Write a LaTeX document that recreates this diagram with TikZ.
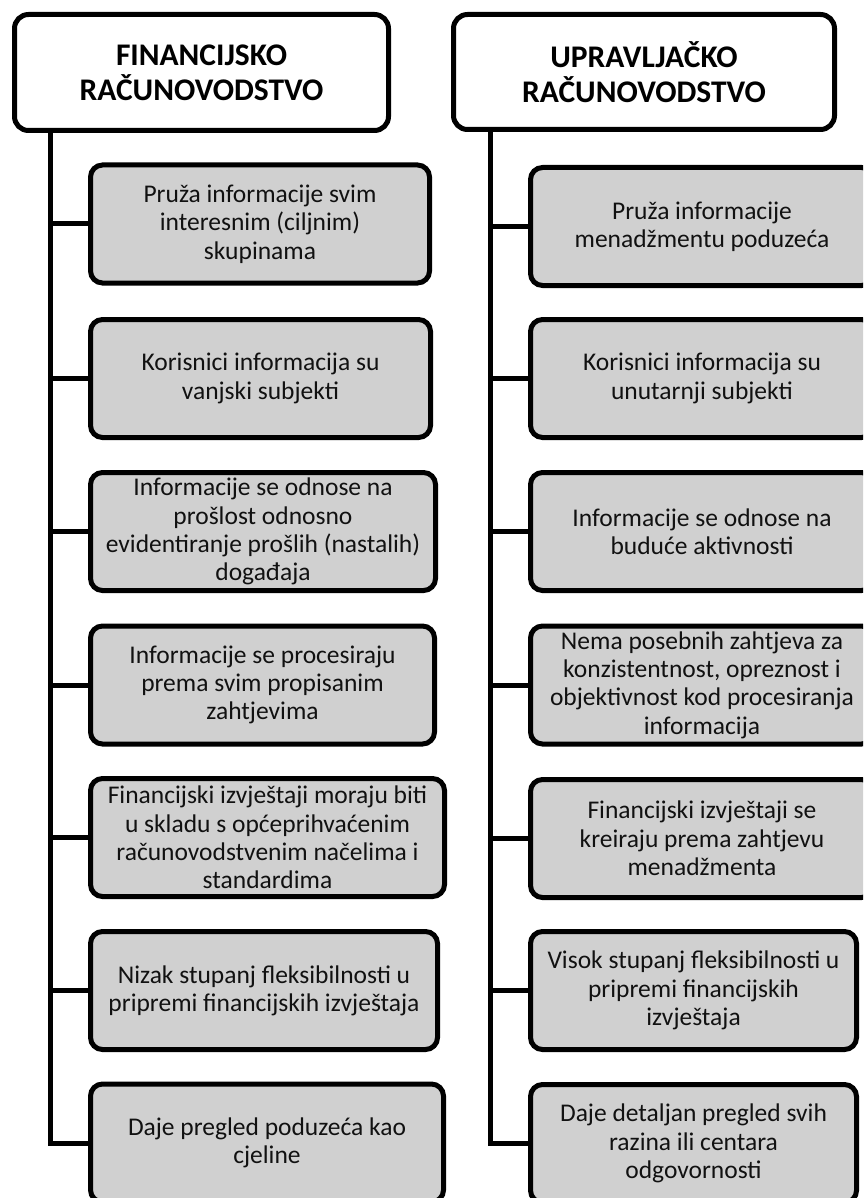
\documentclass[tikz,border=0pt]{standalone}
\usepackage{fontspec}
\setmainfont{Carlito}
\definecolor{boxgray}{HTML}{D0D0D0}
\definecolor{txt}{HTML}{111111}
\tikzset{
  box/.style={draw=black, line width=5pt, fill=boxgray, rounded corners=12pt,
    align=center, inner sep=0pt, minimum height=118pt, text=txt,
    font=\fontsize{25.5}{28.3}\selectfont},
  head/.style={draw=black, line width=5pt, fill=white, rounded corners=14pt,
    align=center, inner sep=0pt, font=\bfseries\fontsize{31.5}{35}\selectfont},
  link/.style={draw=black, line width=5pt}
}
\begin{document}
\begin{tikzpicture}[x=1pt,y=-1pt]
\useasboundingbox (0,0) rectangle (863,1198);
\clip (0,0) rectangle (863,1198);
% headers
\node[head, minimum width=374pt, minimum height=116pt] (HL) at (201.5,72.5) {FINANCIJSKO\\RAČUNOVODSTVO};
\node[head, minimum width=381pt, minimum height=115pt] (HR) at (644,72) {UPRAVLJAČKO\\RAČUNOVODSTVO};
\coordinate (tl) at (50,133);
\coordinate (tr) at (490,132);
% left column
\node[box, minimum width=339pt] (L1) at (260,224) {Pruža informacije svim\\interesnim (ciljnim)\\skupinama};
\node[box, minimum width=340pt] (L2) at (260.5,378.5) {Korisnici informacija su\\vanjski subjekti};
\node[box, minimum width=345pt] (L3) at (263,531.5) {Informacije se odnose na\\prošlost odnosno\\evidentiranje prošlih (nastalih)\\događaja};
\node[box, minimum width=344pt] (L4) at (262.5,685) {Informacije se procesiraju\\prema svim propisanim\\zahtjevima};
\node[box, minimum width=354pt] (L5) at (267.5,837.5) {Financijski izvještaji moraju biti\\u skladu s općeprihvaćenim\\računovodstvenim načelima i\\standardima};
\node[box, minimum width=347pt] (L6) at (264,990.5) {Nizak stupanj fleksibilnosti u\\pripremi financijskih izvještaja};
\node[box, minimum width=353pt] (L7) at (267,1143) {Daje pregled poduzeća kao\\cjeline};
% right column
\node[box, minimum width=343pt] (R1) at (702,226.5) {Pruža informacije\\menadžmentu poduzeća};
\node[box, minimum width=343pt] (R2) at (702,378.5) {Korisnici informacija su\\unutarnji subjekti};
\node[box, minimum width=343pt] (R3) at (702,531.5) {Informacije se odnose na\\buduće aktivnosti};
\node[box, minimum width=343pt] (R4) at (702,685) {Nema posebnih zahtjeva za\\konzistentnost, opreznost i\\objektivnost kod procesiranja\\informacija};
\node[box, minimum width=343pt] (R5) at (702,838.5) {Financijski izvještaji se\\kreiraju prema zahtjevu\\menadžmenta};
\node[box, minimum width=326pt] (R6) at (693.5,990.5) {Visok stupanj fleksibilnosti u\\pripremi financijskih\\izvještaja};
\node[box, minimum width=326pt] (R7) at (693.5,1143.5) {Daje detaljan pregled svih\\razina ili centara\\odgovornosti};
% connectors
\draw[link] (HL.south -| tl) |- (L7.west);
\foreach \n in {L1,L2,L3,L4,L5,L6} \draw[link] (\n.west -| tl) -- (\n.west);
\draw[link] (HR.south -| tr) |- (R7.west);
\foreach \n in {R1,R2,R3,R4,R5,R6} \draw[link] (\n.west -| tr) -- (\n.west);
\end{tikzpicture}
\end{document}
